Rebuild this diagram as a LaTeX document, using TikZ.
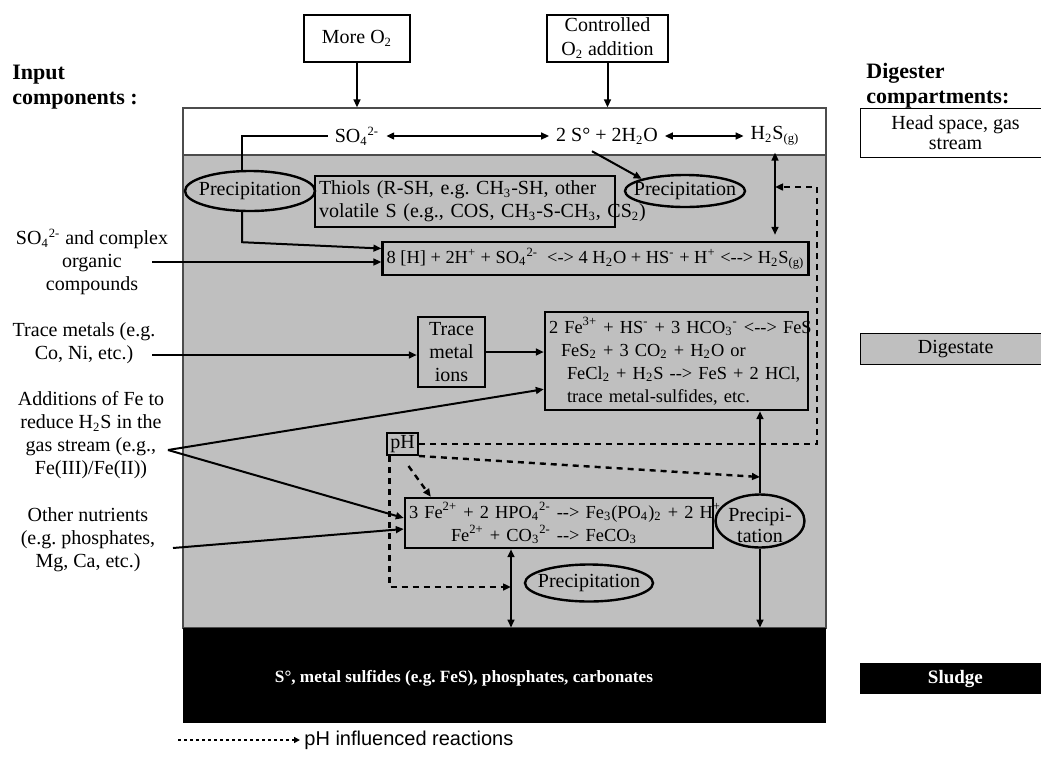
\documentclass[tikz,border=0pt]{standalone}
\usepackage{fontspec}
\setmainfont{Liberation Serif}
\newfontfamily\legendfont{Liberation Sans}
\usetikzlibrary{arrows.meta,shapes.geometric}
\definecolor{digest}{gray}{0.75}
\newcommand\sbs[1]{\textsubscript{\fontsize{6.3}{7}\selectfont #1}}
\newcommand\sps[1]{\textsuperscript{\fontsize{6.3}{7}\selectfont #1}}
\newcommand\ddash{-\kern0pt-}
\frenchspacing

\begin{document}
\begin{tikzpicture}[x=0.5pt,y=-0.5pt,
    font=\fontsize{10}{11.5}\selectfont,
    box/.style={draw, line width=1.2pt, inner sep=2pt},
    eqn/.style={font=\fontsize{9.2}{11.5}\selectfont},
    thinbox/.style={draw, line width=0.6pt},
    precip/.style={ellipse, draw, line width=1.2pt, inner sep=0pt, fill=digest},
    conn/.style={line width=1pt, arrows={-Triangle[length=4pt,width=3.4pt]}},
    twoway/.style={line width=1pt, arrows={Triangle[length=4pt,width=3.4pt]-Triangle[length=4pt,width=3.4pt]}},
    phdash/.style={conn, line width=1.2pt, dash pattern=on 3pt off 2.5pt},
    inlabel/.style={align=center},
    heading/.style={font=\fontsize{11}{12.5}\selectfont\bfseries, align=left, anchor=west, inner sep=0pt}]
    \useasboundingbox (0,0) rectangle (1041,757);
    \clip (0,0) rectangle (1041,757);

    % === Digester ===
    \node[thinbox, draw=black!70, fill=digest, minimum width=321.5pt, minimum height=236.5pt, inner sep=0] (dig) at (504.5,391.5) {};
    \node[thinbox, draw=black!70, fill=white, minimum width=321.5pt, minimum height=23.5pt, inner sep=0] (head) at (504.5,131.5) {};
    \node[fill=black, minimum width=321.5pt, minimum height=47.5pt, inner sep=0] (sludge) at (504.5,675.5) {};
    \node[text=white, font=\fontsize{8.6}{10}\selectfont\bfseries] (solids) at (464,678) {S°, metal sulfides (e.g. FeS), phosphates, carbonates};

    % Oxygen
    \node[thinbox, minimum width=53pt, minimum height=23.5pt] (moreox) at (357,38.5) {More O\sbs{2}};
    \node[thinbox, minimum width=60.5pt, minimum height=23.5pt, align=center, inner sep=1pt, font=\fontsize{10}{12}\selectfont] (ctrlox) at (607.5,38.5) {Controlled\\O\sbs{2} addition};
    \draw[conn] (moreox) -- (moreox |- head.north);
    \draw[conn] (ctrlox) -- (ctrlox |- head.north);

    % Head space
    \node (so4g) at (357,136) {SO\sbs{4}\sps{2-}};
    \node (sulfur) at (607,136) {2 S° + 2H\sbs{2}O};
    \node (h2sg) at (775,136) {H\sbs{2}S\sbs{(g)}};
    \draw[twoway] (so4g) -- (sulfur);
    \draw[twoway] (sulfur) -- (h2sg);

    % === Digestate ===
    \node[precip, minimum width=65pt, minimum height=20pt, label={center:Precipitation}] (precA) at (250,191) {};
    \node[box, text width=146pt, minimum height=25.5pt, align=left] (thiols) at (465,201.5) {\mbox{Thiols (R-SH, e.g. CH\sbs{3}-SH, other}\\\mbox{volatile S (e.g., COS, CH\sbs{3}-S-CH\sbs{3}, CS\sbs{2})}};
    \node[precip, minimum width=60pt, minimum height=16pt, label={center:Precipitation}] (precB) at (685,191) {};
    \node[box, eqn, minimum width=212.5pt, minimum height=16.5pt] (hbox) at (595.5,258.5) {8 [H] + 2H\sps{+} + SO\sbs{4}\sps{2-}~ <-> 4 H\sbs{2}O + HS\sps{-} + H\sps{+} <\ddash> H\sbs{2}S\sbs{(g)}};
    \draw[line width=1pt] (so4g.west) -| ([xshift=-4pt]precA.north);
    \draw[conn] ([xshift=-4pt]precA.south) -- ++(0,30) -- ([yshift=5pt]hbox.west);
    \draw[conn] ([xshift=-7.5pt]sulfur.south) -- (precB.north west);
    \draw[twoway, shorten >=3pt] (h2sg) -- (h2sg |- hbox.north);

    \node[box, minimum width=33.5pt, minimum height=35pt, align=center, inner sep=1pt] (tmi) at (451.5,352) {Trace\\metal\\ions};
    \node[box, eqn, text width=127.5pt, minimum height=49pt, align=left] (febox) at (676.5,361) {\mbox{2 Fe\sps{3+} + HS\sps{-} + 3 HCO\sbs{3}\sps{-} <\ddash> FeS}\\\mbox{\hspace*{6pt}FeS\sbs{2} + 3 CO\sbs{2} + H\sbs{2}O or}\\\mbox{\hspace*{9pt}FeCl\sbs{2} + H\sbs{2}S \ddash> FeS + 2 HCl,}\\\mbox{\hspace*{9pt}trace metal-sulfides, etc.}};
    \draw[conn] (tmi) -- (tmi -| febox.west);

    \node[box, line width=1pt, inner sep=1pt, minimum width=15.5pt, minimum height=11pt] (ph) at (402.5,444) {pH};
    \node[box, eqn, text width=150pt, minimum height=25pt, align=left] (pbox) at (559,523) {\mbox{3 Fe\sps{2+} + 2 HPO\sbs{4}\sps{2-} \ddash> Fe\sbs{3}(PO\sbs{4})\sbs{2} + 2 H\sps{+}}\\\mbox{\hspace*{21pt}Fe\sps{2+} + CO\sbs{3}\sps{2-} \ddash> FeCO\sbs{3}}};
    \node[precip, minimum width=44.5pt, minimum height=26.5pt, label={[align=center, font=\fontsize{10}{10.5}\selectfont, yshift=-2pt]center:{Precipi-\\tation}}] (precC) at (760,521) {};
    \node[precip, minimum width=64pt, minimum height=18.5pt, label={center:Precipitation}] (precD) at (589,583) {};
    \draw[conn] (precC.north) -- (precC.north |- febox.south);
    \draw[conn] (precC.south) -- (precC.south |- sludge.north);
    \coordinate (pdrop) at ([xshift=-24pt]pbox.south);
    \draw[twoway] (pdrop) -- (pdrop |- sludge.north);

    % pH influenced
    \coordinate (phcorner) at (817,187);
    \coordinate (phmid) at (760,477);
    \coordinate (phlow) at (511,587);
    \draw[phdash] (ph.east) -| (phcorner) -- (phcorner -| h2sg);
    \draw[phdash] (ph.south east) -- (phmid);
    \draw[phdash] ([xshift=3pt,yshift=-5pt]ph.south) -- ([xshift=13.5pt]pbox.north west);
    \draw[phdash] ([xshift=-6.5pt]ph.south) |- (phlow);

    % === Input components ===
    \node[heading] (inputs) at (12,87) {Input\\components :};
    \node[inlabel] (so4in) at (92,262) {SO\sbs{4}\sps{2-} and complex\\organic\\compounds};
    \node[inlabel] (trin) at (84,343) {Trace metals (e.g.\\Co, Ni, etc.)};
    \node[inlabel] (fein) at (91,435) {Additions of Fe to\\reduce H\sbs{2}S in the\\gas stream (e.g.,\\Fe(III)/Fe(II))};
    \node[inlabel] (nuin) at (88,540) {Other nutrients\\(e.g. phosphates,\\Mg, Ca, etc.)};
    \coordinate (so4src) at (152,262);
    \coordinate (trsrc) at (152,355);
    \coordinate (fesrc) at (168,450);
    \coordinate (nusrc) at (173,548);
    \draw[conn] (so4src) -- (so4src -| hbox.west);
    \draw[conn] (trsrc) -- (trsrc -| tmi.west);
    \draw[conn] (fesrc) -- ([yshift=11pt]febox.south west);
    \draw[conn] (fesrc) -- ([yshift=2.5pt]pbox.west);
    \draw[conn] (nusrc) -- ([yshift=-3pt]pbox.west);

    % === Digester compartments ===
    \node[heading] (compart) at (866,86) {Digester\\compartments:};
    \node[thinbox, fill=white, minimum width=95pt, minimum height=24.5pt, align=center, anchor=north west, font=\fontsize{10}{10}\selectfont] (hsR) at (860,108) {Head space, gas\\stream};
    \node[thinbox, fill=digest, minimum width=95pt, minimum height=15pt, anchor=north west] (digR) at (860,333) {Digestate};
    \node[fill=black, text=white, font=\fontsize{9.5}{11}\selectfont\bfseries, minimum width=95pt, minimum height=12.5pt, anchor=north west] (sluR) at (860,663) {Sludge};

    % Legend
    \coordinate (legA) at (178,740);
    \node[anchor=west, font=\legendfont\fontsize{10}{12}\selectfont, inner sep=2pt] (legtxt) at (300,740) {pH influenced reactions};
    \draw[line width=0.8pt, dash pattern=on 1.3pt off 1.7pt, arrows={-Triangle[length=3pt,width=3pt]}] (legA) -- (legtxt.west);
\end{tikzpicture}
\end{document}
